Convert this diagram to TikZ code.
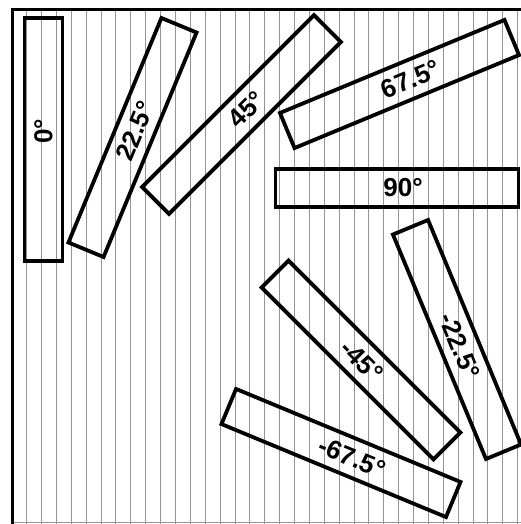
\documentclass[tikz,border=0pt]{standalone}
\usepackage{fontspec}
\setmainfont{Liberation Sans}
\usetikzlibrary{calc}
\tikzset{
  bar/.style={draw=black, line width=3.8pt, rectangle, minimum width=243pt, minimum height=38pt,
    inner sep=0pt},
  lab/.style={inner sep=0pt, font=\fontsize{26}{30}\selectfont\bfseries},
  hatch/.style={draw=black!42, line width=1pt},
  frame/.style={draw=black, line width=3.6pt}
}
\begin{document}
\begin{tikzpicture}[x=1pt,y=-1pt]
\useasboundingbox (0,0) rectangle (521,524);
% hatch lines
\foreach \k in {0,...,33}{
  \draw[hatch] (26.7+14.88*\k,9.5) -- (26.7+14.88*\k,524);
}
\draw[hatch] (12.5,522.5) -- (521,522.5);
% frame
\coordinate (fbl) at (12.5,524);
\coordinate (ftl) at (12.5,9.5);
\coordinate (ftr) at (521,9.5);
\draw[frame] (fbl) -- (ftl) -- (ftr);
% bars
\node[bar, rotate=90]    (b0)   at (43.5,139.5) {};
\node[bar, rotate=67.5]  (b22)  at (132.5,137.5) {};
\node[bar, rotate=45]    (b45)  at (241.5,114.5) {};
\node[bar, rotate=22.5]  (b67)  at (399.5,84) {};
\node[bar, rotate=0]     (b90)  at (397,188) {};
\node[bar, rotate=-67.5] (bm22) at (457,339.5) {};
\node[bar, rotate=-45]   (bm45) at (361,360) {};
\node[bar, rotate=-22.5] (bm67) at (341,453) {};
% labels
\node[lab, rotate=90]    (t0)   at ($(b0.center)!8pt!(b0.east)$) {0°};
\node[lab, rotate=67.5]  (t22)  at ($(b22.center)!7pt!(b22.east)$) {22.5°};
\node[lab, rotate=45]    (t45)  at ($(b45.center)!7pt!(b45.east)$) {45°};
\node[lab, rotate=22.5]  (t67)  at ($(b67.center)!12pt!(b67.east)$) {67.5°};
\node[lab, rotate=0]     (t90)  at ($(b90.center)!6pt!(b90.east)$) {90°};
\node[lab, rotate=-67.5] (tm22) at ($(bm22.center)!7pt!(bm22.east)$) {-22.5°};
\node[lab, rotate=-45]   (tm45) at ($(bm45.center)!1pt!(bm45.east)$) {-45°};
\node[lab, rotate=-22.5] (tm67) at ($(bm67.center)!12pt!(bm67.east)$) {-67.5°};
\end{tikzpicture}
\end{document}
